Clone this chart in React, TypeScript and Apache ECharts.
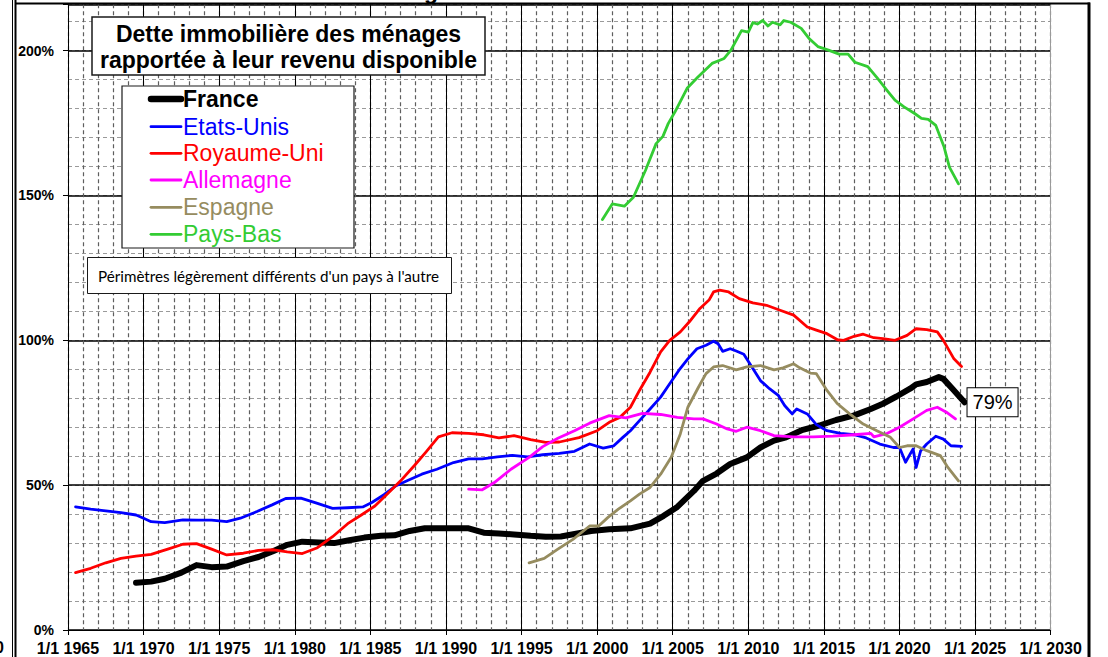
import React, { useEffect, useRef } from "react";
import * as echarts from "echarts";

// ---------- Data (year, % of disposable income) ----------
const seriesNames = ["France", "Etats-Unis", "Royaume-Uni", "Allemagne", "Espagne", "Pays-Bas"];
const seriesColors = ["#000000", "#0000FF", "#FF0000", "#FF00FF", "#968C5F", "#33CC33"];

const france: [number, number][] = [
  [1969.5, 16.3], [1970.5, 16.7], [1971.4, 17.7], [1972.5, 19.8], [1973.5, 22.4], [1974.5, 21.7],
  [1975.5, 21.9], [1976.6, 23.8], [1977.6, 25.2], [1978.6, 27.3], [1979.5, 29.4], [1980.5, 30.5],
  [1981.6, 30.2], [1982.6, 30.0], [1983.6, 31.0], [1984.6, 31.9], [1985.7, 32.5], [1986.6, 32.7],
  [1987.6, 34.2], [1988.6, 35.1], [1989.5, 35.1], [1990.6, 35.1], [1991.5, 35.1], [1992.5, 33.6],
  [1993.5, 33.3], [1994.5, 33.0], [1995.6, 32.5], [1996.6, 32.2], [1997.6, 32.3], [1998.6, 33.2],
  [1999.6, 34.2], [2000.8, 34.8], [2002.2, 35.1], [2003.5, 36.7], [2004.4, 39.4], [2005.3, 42.5],
  [2006.4, 48.0], [2007.0, 51.5], [2007.9, 54.0], [2008.8, 57.3], [2009.9, 59.6], [2010.8, 63.0],
  [2011.7, 65.4], [2012.5, 66.5], [2013.6, 69.1], [2014.7, 70.6], [2015.8, 72.5], [2017.0, 74.1],
  [2018.1, 76.3], [2018.9, 78.1], [2019.8, 80.6], [2020.7, 83.3], [2021.1, 84.8], [2021.8, 85.6],
  [2022.6, 87.3], [2022.9, 86.7], [2023.5, 83.3], [2024.3, 78.6],
];

const etatsUnis: [number, number][] = [
  [1965.5, 42.5], [1966.5, 41.7], [1967.5, 41.1], [1968.5, 40.5], [1969.5, 39.7], [1970.0, 38.6],
  [1970.5, 37.4], [1971.4, 37.1], [1972.6, 38.0], [1973.6, 37.9], [1974.5, 37.9], [1975.5, 37.4],
  [1976.4, 38.6], [1977.5, 40.9], [1978.5, 43.2], [1979.4, 45.4], [1980.4, 45.5], [1981.5, 43.7],
  [1982.5, 42.0], [1983.5, 42.2], [1984.5, 42.5], [1985.1, 44.0], [1985.9, 46.7], [1986.7, 49.8],
  [1987.5, 51.7], [1988.4, 53.8], [1989.4, 55.5], [1990.5, 57.8], [1991.5, 59.1], [1992.4, 59.1],
  [1993.4, 59.8], [1994.4, 60.3], [1995.4, 59.8], [1996.4, 60.5], [1997.5, 61.0], [1998.5, 61.7],
  [1999.5, 64.2], [2000.4, 62.8], [2001.1, 63.6], [2001.7, 66.5], [2002.2, 68.8], [2002.8, 72.3],
  [2003.5, 76.3], [2004.2, 80.4], [2004.8, 85.0], [2005.4, 89.6], [2006.0, 93.6], [2006.6, 97.1],
  [2007.2, 98.3], [2007.7, 99.7], [2008.0, 98.8], [2008.3, 96.2], [2008.8, 97.1], [2009.2, 96.3],
  [2009.7, 95.2], [2010.1, 91.9], [2010.8, 86.1], [2011.4, 83.3], [2012.0, 80.9], [2012.4, 77.5],
  [2012.9, 74.6], [2013.2, 76.3], [2013.9, 74.6], [2014.5, 70.9], [2015.2, 68.8], [2016.1, 67.9],
  [2017.0, 67.4], [2017.8, 66.3], [2018.7, 64.2], [2019.6, 63.0], [2020.0, 63.0], [2020.4, 57.9],
  [2020.7, 60.7], [2020.9, 62.5], [2021.1, 56.1], [2021.4, 61.9], [2021.8, 64.2], [2022.4, 66.9],
  [2022.9, 65.9], [2023.4, 63.6], [2024.1, 63.4],
];

const royaumeUni: [number, number][] = [
  [1965.5, 19.8], [1966.5, 21.3], [1967.5, 23.2], [1968.5, 24.7], [1969.5, 25.5], [1970.5, 26.1],
  [1971.6, 27.9], [1972.6, 29.6], [1973.5, 29.8], [1974.5, 27.9], [1975.5, 25.9], [1976.6, 26.5],
  [1977.6, 27.5], [1978.6, 27.7], [1979.5, 27.0], [1980.5, 26.4], [1981.5, 28.4], [1982.5, 32.2],
  [1983.5, 36.7], [1984.4, 39.7], [1985.3, 42.8], [1986.1, 46.9], [1987.0, 51.5], [1987.9, 56.7],
  [1988.7, 61.6], [1989.5, 66.7], [1990.4, 68.1], [1991.5, 67.9], [1992.5, 67.4], [1993.5, 66.3],
  [1994.5, 67.1], [1995.6, 65.7], [1996.6, 64.8], [1997.5, 64.9], [1998.8, 66.4], [2000.0, 68.8],
  [2000.8, 71.7], [2001.5, 73.4], [2002.2, 76.9], [2002.8, 82.7], [2003.5, 89.0], [2004.2, 96.0],
  [2004.8, 100.0], [2005.5, 102.9], [2006.1, 106.4], [2006.8, 111.0], [2007.4, 113.9], [2007.7, 116.7],
  [2008.1, 117.3], [2008.7, 116.7], [2009.4, 114.4], [2010.3, 112.9], [2011.2, 112.1], [2012.1, 110.4],
  [2013.0, 108.7], [2013.9, 104.6], [2014.5, 103.5], [2015.2, 102.3], [2015.9, 100.2], [2016.3, 100.0],
  [2017.0, 101.4], [2017.6, 102.1], [2018.3, 100.9], [2018.9, 100.6], [2019.7, 100.0], [2020.5, 101.7],
  [2021.1, 104.0], [2021.8, 103.7], [2022.5, 102.9], [2022.9, 100.0], [2023.6, 93.6], [2024.1, 91.0],
];

const allemagne: [number, number][] = [
  [1991.5, 48.6], [1992.4, 48.4], [1993.2, 50.9], [1994.3, 55.5], [1995.5, 59.6], [1996.4, 63.3],
  [1997.4, 66.2], [1998.5, 68.8], [1999.5, 71.4], [2000.8, 74.0], [2001.9, 73.2], [2003.0, 74.8],
  [2004.2, 74.4], [2005.3, 73.4], [2006.4, 72.9], [2007.0, 72.9], [2007.9, 71.1], [2008.6, 69.4],
  [2009.2, 68.6], [2009.9, 70.0], [2010.8, 68.8], [2011.7, 67.1], [2013.0, 66.7], [2014.3, 66.7],
  [2015.6, 66.9], [2017.0, 67.4], [2018.1, 67.9], [2018.3, 66.7], [2019.2, 67.9], [2020.0, 70.0],
  [2020.9, 72.9], [2021.8, 75.8], [2022.5, 76.9], [2023.1, 75.2], [2023.7, 72.9],
];

const espagne: [number, number][] = [
  [1995.5, 23.2], [1996.5, 24.7], [1997.4, 27.9], [1998.4, 31.3], [1999.5, 35.9], [2000.1, 35.9],
  [2000.7, 38.8], [2001.4, 41.7], [2002.2, 44.6], [2002.8, 46.9], [2003.5, 49.2], [2004.2, 53.8],
  [2004.9, 59.6], [2005.5, 67.7], [2006.0, 76.9], [2006.7, 83.8], [2007.2, 88.5], [2007.7, 90.8],
  [2008.3, 91.3], [2009.2, 89.8], [2009.9, 90.8], [2010.8, 91.3], [2011.7, 89.8], [2012.3, 90.5],
  [2013.0, 91.9], [2013.4, 90.5], [2014.1, 88.7], [2014.5, 88.5], [2015.2, 82.7], [2015.9, 78.1],
  [2016.7, 74.6], [2017.6, 71.1], [2018.5, 68.8], [2019.4, 66.5], [2020.0, 63.0], [2020.5, 63.6],
  [2021.1, 63.6], [2021.8, 61.9], [2022.7, 60.2], [2023.2, 56.1], [2023.9, 51.5],
];

const paysBas: [number, number][] = [
  [2000.35, 141.7], [2001.0, 147.1], [2001.8, 146.3], [2002.4, 149.4], [2003.2, 158.7], [2003.9, 167.9],
  [2004.35, 170.4], [2004.7, 174.8], [2005.15, 178.9], [2005.95, 187.0], [2006.65, 190.8], [2007.6, 195.6],
  [2008.4, 197.3], [2008.85, 200.2], [2009.55, 206.9], [2010.0, 206.4], [2010.3, 209.7], [2010.6, 209.2],
  [2010.95, 210.4], [2011.3, 208.5], [2011.6, 209.8], [2012.1, 208.9], [2012.35, 210.4], [2012.8, 209.8],
  [2013.5, 207.7], [2014.0, 204.3], [2014.6, 201.4], [2015.3, 200.2], [2016.0, 198.8], [2016.6, 198.8],
  [2017.05, 196.0], [2017.9, 194.5], [2018.55, 190.4], [2019.25, 185.8], [2019.7, 182.9], [2020.3, 180.6],
  [2021.0, 178.3], [2021.45, 176.6], [2021.9, 176.3], [2022.4, 174.2], [2022.95, 166.7], [2023.3, 159.8],
  [2023.9, 154.0],
];

const seriesData = [france, etatsUnis, royaumeUni, allemagne, espagne, paysBas];

// Axis definitions
const xMin = 1965;
const xMax = 2030;
const xMajorStep = 5;
const xMinorStep = 1;
const xLabelPrefix = "1/1 ";
const yMin = 0;
const yMax = 216;
const yMajorStep = 50;
const yMinorStep = 10;

const titleLines = ["Dette immobilière des ménages", "rapportée à leur revenu disponible"];
const noteText = "Périmètres légèrement différents d'un pays à l'autre";

const FONT = "'Liberation Sans', Arial, Helvetica, sans-serif";

export default function App() {
  const ref = useRef<HTMLDivElement>(null);

  useEffect(() => {
    document.body.style.margin = "0";
    const chart = echarts.init(ref.current!, null, { renderer: "svg" });

    const majorXCount = (xMax - xMin) / xMajorStep + 1;
    const majorXColors = Array.from({ length: majorXCount }, (_, i) =>
      i === majorXCount - 1 ? "#9a9a9a" : "#000000"
    );

    const series = seriesNames.map((name, i) => ({
      name,
      type: "line",
      xAxisIndex: 1,
      yAxisIndex: 1,
      data: seriesData[i],
      showSymbol: false,
      symbol: "none",
      smooth: false,
      lineStyle: {
        color: seriesColors[i],
        width: i === 0 ? 6 : 2.8,
        cap: "round",
        join: "round",
      },
      itemStyle: { color: seriesColors[i] },
      z: 2 + i,
      endLabel:
        i === 0
          ? {
              show: true,
              formatter: (p: any) => Math.round(p.value[1]) + "%",
              distance: 3,
              color: "#000",
              fontFamily: FONT,
              fontSize: 20,
              lineHeight: 22,
              backgroundColor: "#fff",
              borderColor: "#000",
              borderWidth: 1,
              padding: [3, 5, 3, 5],
            }
          : { show: false },
    }));

    const legendTop = 86;
    const legendRowCenters = [99, 126.7, 153.3, 180, 207.3, 234.3];
    const legendItems: any[] = [];
    seriesNames.forEach((name, i) => {
      legendItems.push({
        type: "line",
        z: 102,
        shape: { x1: 151, y1: legendRowCenters[i], x2: 181, y2: legendRowCenters[i] },
        style: { stroke: seriesColors[i], lineWidth: i === 0 ? 6.5 : 2.8, lineCap: "round" },
      });
      legendItems.push({
        type: "text",
        z: 102,
        x: 183,
        y: legendRowCenters[i],
        style: {
          text: name,
          fill: seriesColors[i],
          font: (i === 0 ? "bold " : "") + "23px " + FONT,
          verticalAlign: "middle",
          align: "left",
        },
      });
    });

    const option: any = {
      animation: false,
      backgroundColor: "#ffffff",
      grid: {
        left: 68,
        right: 57.3,
        top: 4.3,
        bottom: 27,
        containLabel: false,
        outerBoundsMode: "none",
      },
      xAxis: [
        {
          type: "value",
          position: "bottom",
          min: xMin,
          max: xMax,
          interval: xMinorStep,
          axisLabel: { show: false },
          axisTick: { show: false },
          axisLine: { show: false },
          splitLine: { show: true, lineStyle: { color: "#5e5e5e", width: 1.2, type: [4, 3] } },
        },
        {
          type: "value",
          position: "bottom",
          min: xMin,
          max: xMax,
          interval: xMajorStep,
          axisLabel: {
            show: true,
            formatter: (v: number) => xLabelPrefix + v,
            color: "#000",
            fontFamily: FONT,
            fontWeight: "bold",
            fontSize: 16,
            margin: 10,
          },
          axisTick: { show: true, inside: false, length: 5, lineStyle: { color: "#000", width: 1 } },
          axisLine: { show: true, onZero: false, lineStyle: { color: "#000", width: 1 } },
          splitLine: { show: true, lineStyle: { color: majorXColors, width: 1 } },
        },
      ],
      yAxis: [
        {
          type: "value",
          position: "left",
          min: yMin,
          max: yMax,
          interval: yMinorStep,
          axisLabel: { show: false },
          axisTick: { show: false },
          axisLine: { show: false },
          splitLine: { show: true, lineStyle: { color: "#9a9a9a", width: 1, type: [4, 3] } },
        },
        {
          type: "value",
          position: "left",
          min: yMin,
          max: yMax,
          interval: yMajorStep,
          axisLabel: {
            show: true,
            formatter: (v: number) => (v % yMajorStep === 0 ? v + "%" : ""),
            color: "#000",
            fontFamily: FONT,
            fontWeight: "bold",
            fontSize: 14,
            margin: 14,
          },
          axisTick: { show: true, inside: false, length: 5, lineStyle: { color: "#000", width: 1 } },
          axisLine: { show: true, lineStyle: { color: "#000", width: 1 } },
          splitLine: { show: true, lineStyle: { color: "#000", width: 1.5 } },
        },
      ],
      series,
      graphic: [
        // frame lines
        { type: "line", z: 110, shape: { x1: 12.5, y1: 0, x2: 12.5, y2: 657 }, style: { stroke: "#000", lineWidth: 1 } },
        { type: "line", z: 110, shape: { x1: 15.5, y1: 0, x2: 15.5, y2: 657 }, style: { stroke: "#000", lineWidth: 2 } },
        { type: "line", z: 110, shape: { x1: 15, y1: 3.5, x2: 1090, y2: 3.5 }, style: { stroke: "#000", lineWidth: 2 } },
        { type: "line", z: 110, shape: { x1: 1089, y1: 2.5, x2: 1089, y2: 657 }, style: { stroke: "#000", lineWidth: 3 } },
        {
          type: "text",
          z: 110,
          x: -5,
          y: 647,
          style: { text: "0", font: "bold 16px " + FONT, fill: "#000", verticalAlign: "middle" },
        },
        {
          type: "text",
          z: 110,
          x: 424,
          y: -9,
          style: { text: "g", font: "bold 23px " + FONT, fill: "#000", verticalAlign: "middle" },
        },
        // title box
        {
          type: "rect",
          z: 100,
          shape: { x: 92, y: 17, width: 393, height: 58 },
          style: { fill: "#fff", stroke: "#1a1a1a", lineWidth: 1.5 },
        },
        {
          type: "text",
          z: 101,
          x: 288.5,
          y: 33.5,
          style: { text: titleLines[0], font: "bold 23px " + FONT, fill: "#000", align: "center", verticalAlign: "middle" },
        },
        {
          type: "text",
          z: 101,
          x: 288.5,
          y: 59.5,
          style: { text: titleLines[1], font: "bold 23px " + FONT, fill: "#000", align: "center", verticalAlign: "middle" },
        },
        // legend box
        {
          type: "rect",
          z: 100,
          shape: { x: 122, y: legendTop, width: 232, height: 162 },
          style: { fill: "#fff", stroke: "#1a1a1a", lineWidth: 1.2 },
        },
        ...legendItems,
        // note box
        {
          type: "rect",
          z: 100,
          shape: { x: 87.5, y: 257.5, width: 364, height: 36 },
          style: { fill: "#fff", stroke: "#1a1a1a", lineWidth: 1 },
        },
        {
          type: "text",
          z: 101,
          x: 98,
          y: 275.5,
          style: { text: noteText, font: "15.2px Lato, 'Open Sans', sans-serif", fill: "#000", verticalAlign: "middle" },
        },
      ],
    };

    chart.setOption(option);
    return () => chart.dispose();
  }, []);

  return <div ref={ref} style={{ width: 1108, height: 657 }} />;
}
